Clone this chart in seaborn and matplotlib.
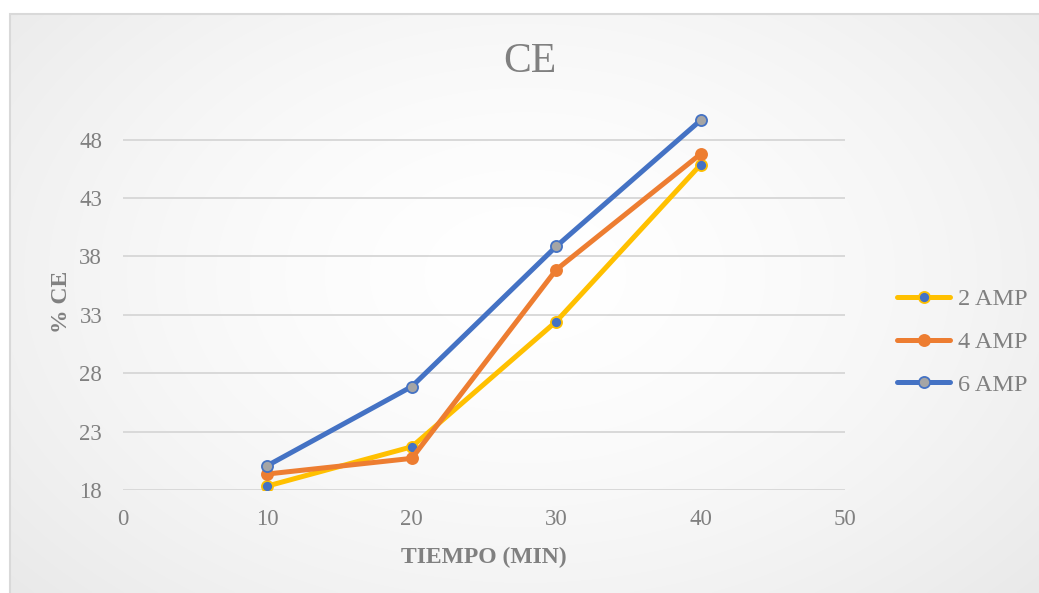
import numpy as np
import pandas as pd
import matplotlib
matplotlib.use("Agg")
import matplotlib.pyplot as plt
from matplotlib.patches import Rectangle
import seaborn as sns

# Series data: % CE versus time
tiempo = [10, 20, 30, 40]
ce_2amp = [18.34, 21.70, 32.43, 45.86]
ce_4amp = [19.37, 20.71, 36.86, 46.77]
ce_6amp = [20.09, 26.86, 38.86, 49.66]
series_names = ["2 AMP", "4 AMP", "6 AMP"]
y_ticks = [18, 23, 28, 33, 38, 43, 48]
x_ticks = [0, 10, 20, 30, 40, 50]

sns.set_theme(style="white")
plt.rcParams["font.family"] = ["Liberation Serif", "DejaVu Serif"]

text_color = "#808080"
grid_color = "#D9D9D9"

W, H = 1039, 593
fig = plt.figure(figsize=(W / 100, H / 100), dpi=100)
fig.patch.set_facecolor("white")

# Chart area with a soft radial gradient; its frame runs past the right and bottom edges
bg = fig.add_axes([10 / W, 0, 1 - 10 / W, 1 - 14 / H], zorder=0)
ny, nx = 300, 600
yy, xx = np.mgrid[0:ny, 0:nx]
cx, cy = nx * 0.50, ny * 0.45
r = np.sqrt(((xx - cx) / (nx * 0.62)) ** 2 + ((yy - cy) / (ny * 0.75)) ** 2)
shade = 1.0 - 0.075 * np.clip(r, 0, 1.2) ** 1.6
bg.imshow(np.dstack([shade, shade, shade]), aspect="auto",
          extent=[0, 1, 0, 1], origin="upper", interpolation="bilinear")
bg.add_patch(Rectangle((0, -0.1), 1.2, 1.1, transform=bg.transAxes, fill=False,
                       edgecolor=grid_color, linewidth=1.5, clip_on=False))
bg.set_xlim(0, 1)
bg.set_ylim(0, 1)
bg.axis("off")

ax = fig.add_axes([123 / W, 1 - 490 / H, (845 - 123) / W, (490 - 114) / H], zorder=1)
ax.set_facecolor("none")

df = pd.DataFrame({
    "tiempo": tiempo * 3,
    "ce": ce_2amp + ce_4amp + ce_6amp,
    "serie": [s for s in series_names for _ in tiempo],
})

styles = {
    "2 AMP": dict(color="#FFC000", mfc="#4472C4", mec="#FFC000"),
    "4 AMP": dict(color="#ED7D31", mfc="#ED7D31", mec="#ED7D31"),
    "6 AMP": dict(color="#4472C4", mfc="#A5A5A5", mec="#4472C4"),
}

for name in series_names:
    st = styles[name]
    sub = df[df["serie"] == name]
    sns.lineplot(data=sub, x="tiempo", y="ce", ax=ax, label=name,
                 color=st["color"], linewidth=3.6, marker="o",
                 markersize=8, markerfacecolor=st["mfc"],
                 markeredgecolor=st["mec"], markeredgewidth=1.3,
                 solid_capstyle="round", zorder=3)

ax.set_xlim(0, 50)
ax.set_ylim(18, 50.2)
ax.set_xticks(x_ticks)
ax.set_yticks(y_ticks)
ax.set_xticklabels([str(v) for v in x_ticks])
ax.set_yticklabels([str(v) for v in y_ticks])
ax.yaxis.grid(True, color=grid_color, linewidth=1.4)
ax.xaxis.grid(False)
ax.set_axisbelow(True)
for sp in ax.spines.values():
    sp.set_visible(False)
ax.tick_params(axis="both", length=0, labelsize=16.5, labelcolor=text_color)
ax.tick_params(axis="y", pad=15)
ax.tick_params(axis="x", pad=14)

ax.set_xlabel("TIEMPO (MIN)", fontsize=17, fontweight="bold",
              color=text_color, labelpad=12)
ax.set_ylabel("% CE", fontsize=17, fontweight="bold",
              color=text_color, labelpad=5)

fig.text(530 / W, 1 - 62 / H, "CE", fontsize=30, color=text_color,
         ha="center", va="center")

leg = ax.legend(loc="center left", bbox_to_anchor=(897 / W, 1 - 342 / H),
                bbox_transform=fig.transFigure, frameon=False,
                fontsize=17.5, handlelength=2.2, handletextpad=0.3,
                labelspacing=0.85, borderpad=0, borderaxespad=0)
for t in leg.get_texts():
    t.set_color(text_color)

fig.savefig("out.png", dpi=100, facecolor="white")
